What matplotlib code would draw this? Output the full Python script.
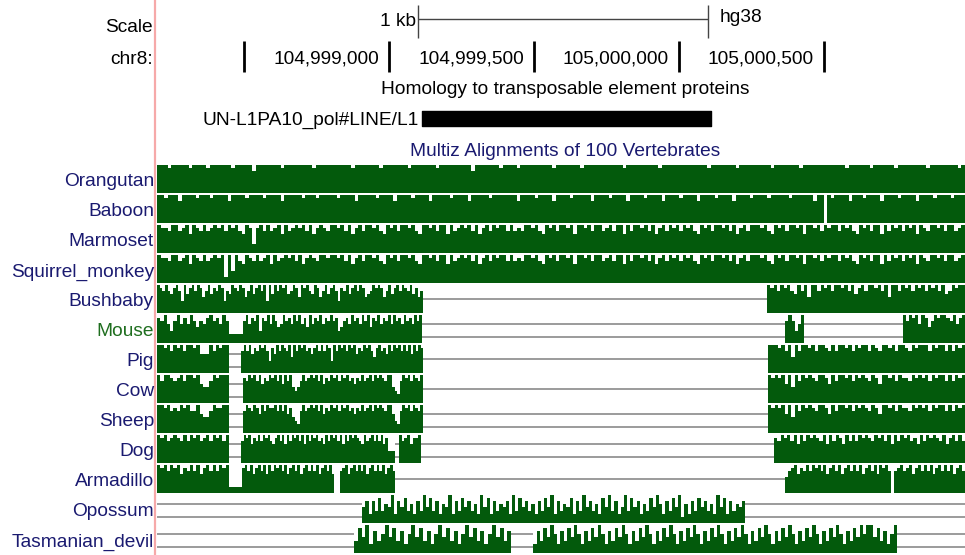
import matplotlib.pyplot as plt
import numpy as np

# genome browser view of chr8 (hg38), Multiz 100-way conservation
chrom = 'chr8:'
chrom_ticks = [104998500, 104999000, 104999500, 105000000, 105000500]
chrom_labels = ['', '104,999,000', '104,999,500', '105,000,000', '105,000,500']
scale_start, scale_end = 104999100, 105000100
element_start, element_end = 104999114, 105000110
element_name = 'UN-L1PA10_pol#LINE/L1'

species = ['Orangutan', 'Baboon', 'Marmoset', 'Squirrel_monkey', 'Bushbaby', 'Mouse',
           'Pig', 'Cow', 'Sheep', 'Dog', 'Armadillo', 'Opossum', 'Tasmanian_devil']

# aligned blocks: (start, end, conservation per bin as digits 0-9)
blocks = {
    'Orangutan': [(104998200, 105000986,
                   "99989999989999899999989999979999999899999999899999"
                   "99999899999998999999989999999899999999979999999899"
                   "99899999999989999999899999999999899999999989999999"
                   "99999989999999899999999989999999899999999999989999"
                   "99899999989999999989999999989")],
    'Baboon': [(104998200, 105000986,
                "99899979999899989999799998999989999799999899989999"
                "98999979999989999799998999979999989999799999899999"
                "99799998999979999899999799998999979999899997999989"
                "99979999899997999989999899999899999979909899997999"
                "89999799998999979999899998999")],
    'Marmoset': [(104998200, 105000986,
                  "98879978969879789897989769838979789697898979689879"
                  "98979689799897698979989769989799697898979689798997"
                  "97879989769897998969989799789799697998979689798979"
                  "89769897998979689799989769897998969989798997989769"
                  "89799697989798969879989799789")],
    'Squirrel_monkey': [(104998200, 105000986,
                         "98879978969879789892949769879789697898979689879989"
                         "98979689799897698979989769989799697898979689798997"
                         "97879989769897998969989799789799697998979689798979"
                         "89769897998979689799989769897998969989798997989769"
                         "89799697989798969879989799789")],
    'Bushbaby': [(104998200, 104999117,
                  "98797689749689798579687984769879857968979496"
                  "97989679859897698579689748796897985679898579"
                  "689798796857"),
                 (105000303, 105000986,
                  "98979897697959979897998979689799897959979897989798979679899")],
    'Mouse': [(104998200, 104998448, "8796479686975768978697"),
              (104998448, 104998497, "3"),
              (104998497, 104999114,
               "79687948796975697869796859687968797845786978697958796879697869786979"),
              (105000366, 105000431, "797469"),
              (105000772, 105000986, "97989698579899879689")],
    'Pig': [(104998200, 104998448, "9989798979989666979899"),
            (104998490, 104999117,
             "7979687989748697987959798978689797984979897989687989758978697989797969798"),
            (105000307, 105000986,
             "99989795979989799879799897989979879989799879899979899797989")],
    'Cow': [(104998200, 104998448, "9799878979989655798999"),
            (104998497, 104999117,
             "8798979687989796979545797898979687989798978687978979898799543798979879"),
            (105000307, 105000986,
             "98989695979898799869799897989879869989798879898979899797989")],
    'Sheep': [(104998200, 104998448, "9989787989779655798899"),
              (104998497, 104999117,
               "7987986979889797968543797898979687989798978687978979898799643798979879"),
              (105000307, 105000986,
               "98989695979898799869799897989879869989798879898979899797989")],
    'Dog': [(104998200, 104998448, "9897898797989789798979"),
            (104998490, 104999021,
             "7989687979897689796979897969798978697989796979898769789797968444"),
            (104999034, 104999110, "97896889"),
            (105000328, 105000986,
             "87989796979898796979869797989879897969798978697989879689797")],
    'Armadillo': [(104998200, 104998448, "9897989687979689797989"),
                  (104998448, 104998493, "2"),
                  (104998493, 104999021,
                   "8979689796979897968979689797968979600789689797968979796897"),
                  (105000366, 105000986,
                   "5789687979897968979689797968979698970789789689797968979796897")],
    'Opossum': [(104998907, 105000228,
                 "57374846593758463749584736593748574639583746573948"
                 "57463748593746583749574638594735948573648596374859"
                 "26374857463958374657")],
    'Tasmanian_devil': [(104998879, 104999421, "48593746958473695847369584736958473695847"),
                        (104999497, 105000752,
                         "37485963748596374859637485963748596374859637485963"
                         "74859637485963748596374859637485963748596374859699"
                         "5847369")],
}

# unaligned stretches: (start, end, 1 = single line, 2 = double line)
gaps = {
    'Bushbaby': [(104999117, 105000303, 1)],
    'Mouse': [(104999114, 105000366, 2), (105000431, 105000772, 2)],
    'Pig': [(104998448, 104998490, 2), (104999117, 105000307, 1)],
    'Cow': [(104998448, 104998497, 2), (104999117, 105000307, 1)],
    'Sheep': [(104998448, 104998497, 2), (104999117, 105000307, 2)],
    'Dog': [(104998448, 104998490, 2), (104999021, 104999034, 2), (104999110, 105000328, 2)],
    'Armadillo': [(104999021, 105000366, 1)],
    'Opossum': [(104998200, 104998907, 2), (105000228, 105000986, 2)],
    'Tasmanian_devil': [(104998200, 104998879, 2), (104999421, 104999497, 2), (105000752, 105000986, 2)],
}

GREEN = '#035a0c'
NAVY = '#1a1a70'
FONT = ['Liberation Sans', 'DejaVu Sans']
FS = 13.8

BP_PER_PX = 1 / 0.29


def px(x):
    # screen pixel column -> genomic position
    return 104999000 + (x - 389) * BP_PER_PX


fig = plt.figure(figsize=(9.65, 5.55), dpi=100)
ax = fig.add_axes([0, 0, 1, 1])
ax.set_xlim(px(0), px(965))
ax.set_ylim(555, 0)
ax.axis('off')

ax.axvline(px(155.5), color='#f6a9a9', lw=1.6)

# scale bar
ax.hlines(19, scale_start, scale_end, color='#444444', lw=1)
ax.vlines([scale_start, scale_end], 5, 38, color='#444444', lw=1)
ax.text(scale_start - 2 * BP_PER_PX, 21, '1 kb', ha='right', va='center', fontsize=FS, family=FONT)
ax.text(scale_end + 12 * BP_PER_PX, 17, 'hg38', ha='left', va='center', fontsize=FS, family=FONT)
ax.text(px(153), 27, 'Scale', ha='right', va='center', fontsize=FS, family=FONT)

# position ruler
ax.text(px(153), 59, chrom, ha='right', va='center', fontsize=FS, family=FONT)
ax.vlines(chrom_ticks, 41, 72, color='black', lw=2)
for t, lab in zip(chrom_ticks, chrom_labels):
    ax.text(t - 10 * BP_PER_PX, 59, lab, ha='right', va='center', fontsize=FS, family=FONT)

# repeat element track
ax.text(px(565), 90, 'Homology to transposable element proteins', ha='center', va='center',
        fontsize=FS, family=FONT)
ax.broken_barh([(element_start, element_end - element_start)], (111, 15), color='black')
ax.text(element_start - 3 * BP_PER_PX, 120, element_name, ha='right', va='center',
        fontsize=FS, family=FONT)

ax.text(px(565), 152, 'Multiz Alignments of 100 Vertebrates', ha='center', va='center',
        fontsize=FS, family=FONT, color=NAVY)

# conservation rows
ROW_H = 28
for i, sp in enumerate(species):
    top = 165 + 30 * i
    bottom = top + ROW_H
    ax.text(px(154), top + 17, sp, ha='right', va='center', fontsize=FS, family=FONT,
            color='#1f6e1f' if sp == 'Mouse' else NAVY)
    for s, e, digits in blocks[sp]:
        h = np.array([int(c) for c in digits]) / 9 * ROW_H
        w = (e - s) / len(digits)
        x = s + np.arange(len(digits)) * w
        ax.bar(x, h, width=w * 1.03, bottom=bottom - h, align='edge', color=GREEN,
               linewidth=0, antialiased=False)
    for s, e, kind in gaps.get(sp, []):
        ys = [top + 14] if kind == 1 else [top + 9, top + 22]
        ax.hlines(ys, s, e, color='#8a8a8a', lw=1.2)

fig.savefig('out.png', dpi=100, facecolor='white')
